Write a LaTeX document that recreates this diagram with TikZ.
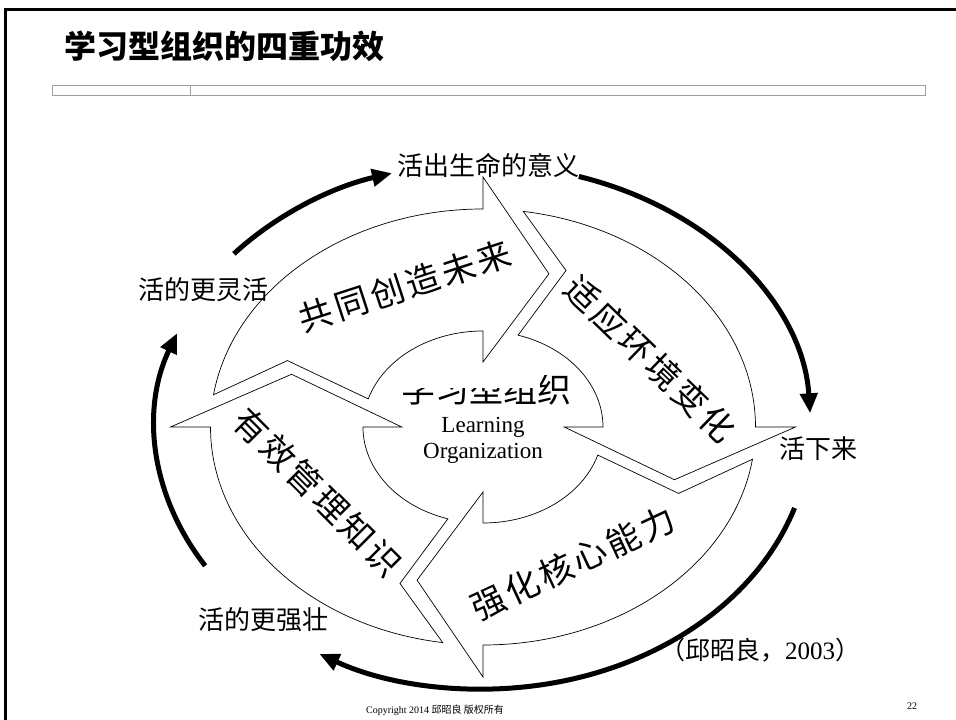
\documentclass[tikz,border=0pt]{standalone}
\usepackage{fontspec}
\setmainfont{Liberation Serif}
\newfontfamily\cjk{Noto Sans CJK SC}
\newfontfamily\cjkwide[LetterSpace=10]{Noto Sans CJK SC}
\usetikzlibrary{arrows.meta}
\begin{document}
\begin{tikzpicture}[x=1pt,y=1pt,
  blockarrow/.style={draw=black, line width=0.7pt, fill=white, line join=miter},
  cyclearrow/.style={line width=5pt, -{Triangle[length=20pt,width=17pt]}},
  lbl/.style={font=\cjk\fontsize{26}{30}\selectfont, inner sep=0pt},
  big/.style={font=\cjkwide\fontsize{34}{38}\selectfont, inner sep=0pt},
]
\useasboundingbox (0,0) rectangle (956,720);

% slide frame and title
\draw[line width=3pt] (5,-10) -- (5,710) -- (970,710);
\node[anchor=west, inner sep=0pt, font=\cjk\bfseries\fontsize{32}{36}\selectfont] (title) at (64,674) {学习型组织的四重功效};
\draw[gray!75, line width=0.9pt] (52,635) rectangle (925,625);
\draw[gray!75, line width=0.9pt] (190,635) -- (190,625);

% centre caption, partly hidden
\begin{scope}
  \clip (380,310) rectangle (540,332) (540,310) rectangle (590,345);
  \node[font=\cjk\fontsize{34}{38}\selectfont, inner sep=0pt] (lo) at (486,331) {学习型组织};
\end{scope}
\node[align=center, font=\fontsize{23}{26}\selectfont, inner sep=0pt] (loen) at (483,280) {Learning\\Organization};

% four curved block arrows around the centre
\begin{scope}[shift={(483,293)}, xscale=1.25]
  \foreach \h in {90,0,-90,180} {
    \pgfmathsetmacro{\ta}{\h+81.5}
    \pgfmathsetmacro{\tb}{\h+73}
    \pgfmathsetmacro{\tn}{\h+67}
    \pgfmathsetmacro{\tt}{\h-19}
    \draw[blockarrow] (\ta:218) arc[start angle=\ta, end angle=\h, radius=218]
      -- (\h:250) -- (\tt:162) -- (\h:65) -- (\h:96)
      arc[start angle=\h, end angle=\tb, radius=96]
      -- (\tn:170) -- cycle;
  }
  % outer cycle of heavy arrows
  \coordinate (c1) at (139:264);
  \coordinate (c2) at (73:262);
  \coordinate (c3) at (-18:262);
  \coordinate (c4) at (212:262);
  \draw[cyclearrow] (c1) arc[start angle=139, end angle=106, radius=264];
  \draw[cyclearrow] (c2) arc[start angle=73, end angle=3, radius=262];
  \draw[cyclearrow] (c3) arc[start angle=-18, end angle=-120, radius=262];
  \draw[cyclearrow] (c4) arc[start angle=212, end angle=159, radius=262];
\end{scope}

% labels on the block arrows
\node[big, rotate=18] (future) at (405,434) {共同创造未来};
\node[big, rotate=-44] (adapt) at (650,361) {适应环境变化};
\node[big, rotate=25] (core) at (573,157) {强化核心能力};
\node[big, rotate=-45] (know) at (318,228) {有效管理知识};

% outcome labels
\node[lbl] (meaning) at (488,555) {活出生命的意义};
\node[lbl] (survive) at (818,271) {活下来};
\node[lbl] (stronger) at (263,100) {活的更强壮};
\node[lbl] (flexible) at (203,430) {活的更灵活};
\node[inner sep=0pt, font=\fontsize{25}{28}\selectfont] (cite) at (760,70) {{\cjk （邱昭良，}2003{\cjk ）}};

% footer
\node[inner sep=0pt, font=\fontsize{10}{12}\selectfont] (copy) at (435,10) {Copyright 2014 {\cjk 邱昭良 版权所有}};
\node[inner sep=0pt, font=\fontsize{10}{12}\selectfont] (page) at (912,14) {22};
\end{tikzpicture}
\end{document}
